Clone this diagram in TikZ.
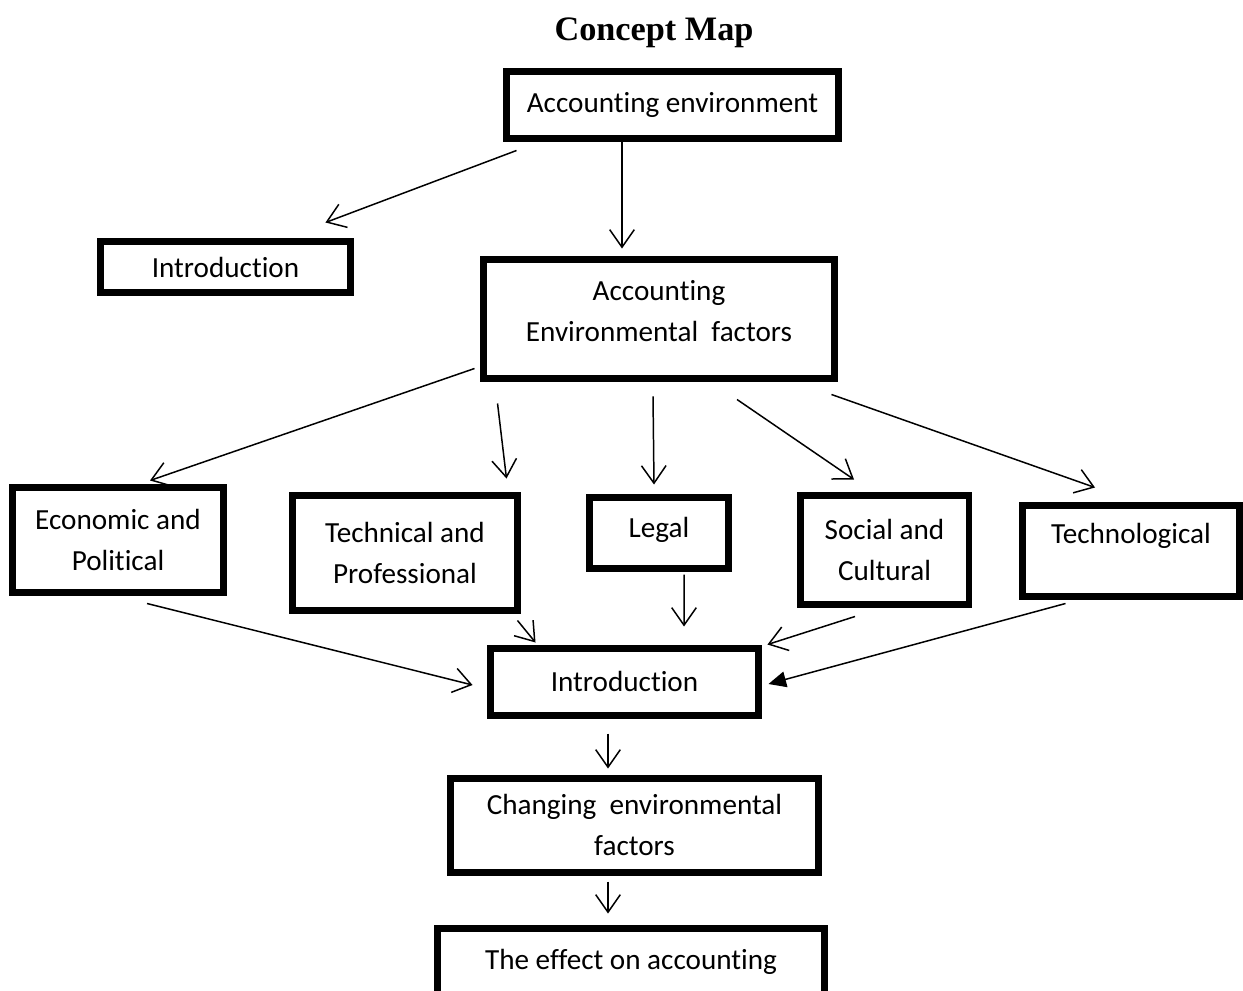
\documentclass[tikz,border=0pt]{standalone}
\usepackage{fontspec}
\setmainfont{Carlito}[Ligatures={NoCommon,NoContextual}, Contextuals=NoAlternate]
\newfontfamily\titlefont{Liberation Serif}
\usetikzlibrary{arrows.meta}

\begin{document}
\begin{tikzpicture}[x=0.02cm, y=-0.02cm,
    box/.style={draw, line width=0.14cm, align=center, inner sep=0pt,
      font=\fontsize{16.6}{23.3}\selectfont},
    arr/.style={-{Straight Barb[length=10pt,width=14pt]}, line width=0.85pt}]
    \useasboundingbox (0,0) rectangle (1243,990);

    % Title
    \node (title) at (654,33) {\titlefont\bfseries\fontsize{19.5}{22}\selectfont Concept Map};

    % Top boxes
    \node[box, minimum width=6.66cm, minimum height=1.36cm] (env) at (672.5,105) {Accounting environment};
    \node[box, minimum width=5.02cm, minimum height=1.04cm] (introL) at (225.5,267) {Introduction};
    \node[box, minimum width=7.04cm, minimum height=2.4cm, text depth=0.34cm] (aef) at (659,319) {Accounting\\Environmental\ \ factors};

    % Factors
    \node[box, minimum width=4.24cm, minimum height=2.12cm] (econ) at (118,540) {Economic and\\Political};
    \node[box, minimum width=4.52cm, minimum height=2.32cm] (tech) at (405,553) {Technical and\\Professional};
    \node[box, minimum width=2.8cm, minimum height=1.42cm, text depth=0.2cm] (legal) at (659,532.5) {Legal};
    \node[box, minimum width=3.38cm, minimum height=2.2cm] (social) at (884.5,550) {Social and\\Cultural};
    \node[box, minimum width=4.36cm, minimum height=1.84cm, text depth=0.7cm] (techno) at (1131,551) {Technological};

    % Bottom boxes
    \node[box, minimum width=5.38cm, minimum height=1.34cm] (introC) at (624.5,681.5) {Introduction};
    \node[box, minimum width=7.38cm, minimum height=1.88cm] (change) at (634.5,825) {Changing\ \ environmental\\factors};
    \node[box, minimum width=7.76cm, minimum height=1.36cm] (effect) at (631,962) {The effect on accounting};

    % Arrows from the top
    \draw[arr] ([shift={(14,8)}]env.south west) -- ([shift={(-29,-15)}]introL.north east);
    \draw[arr] ([shift={(-50.5,-2)}]env.south) -- ([shift={(-37,-7)}]aef.north);

    % Arrows to the factors
    \draw[arr] ([shift={(-5,-14)}]aef.south west) -- ([shift={(32,-3)}]econ.north);
    \draw[arr] ([shift={(18,21)}]aef.south west) -- ([shift={(-15,-13)}]tech.north east);
    \draw[arr] ([shift={(-6,14)}]aef.south) -- ([shift={(-5,-9)}]legal.north);
    \draw[arr] ([shift={(78,17)}]aef.south) -- ([shift={(-30.5,-12)}]social.north);
    \draw[arr] ([shift={(-7,12)}]aef.south east) -- ([shift={(-36,-14)}]techno.north);

    % Arrows to the second introduction
    \draw[arr] ([shift={(29,7)}]econ.south) -- ([shift={(-14,3.5)}]introC.west);
    \draw[arr] ([shift={(-4,6)}]tech.south east) -- ([shift={(49,-2)}]introC.north west);
    \draw[arr] ([shift={(25,3)}]legal.south) -- ([shift={(59.5,-18)}]introC.north);
    \draw[arr] ([shift={(-29.5,8)}]social.south) -- ([shift={(5,0)}]introC.north east);
    \draw[-{Triangle[length=10pt,width=9pt]}, line width=0.85pt] ([shift={(47,3)}]techno.south west) -- ([shift={(6,2.5)}]introC.east);

    % Down to the end
    \draw[arr] ([shift={(-16.5,15)}]introC.south) -- ([shift={(-26.5,-6)}]change.north);
    \draw[arr] ([shift={(-26.5,6)}]change.south) -- ([shift={(-23,-11)}]effect.north);
\end{tikzpicture}
\end{document}
